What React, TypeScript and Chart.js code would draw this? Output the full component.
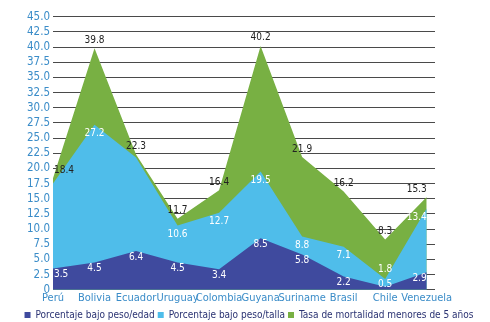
import React, { useEffect, useRef } from 'react';
import { Chart, registerables } from 'chart.js';

Chart.register(...registerables);

const countries = ['Perú', 'Bolivia', 'Ecuador', 'Uruguay', 'Colombia', 'Guyana', 'Suriname', 'Brasil', 'Chile', 'Venezuela'];
const seriesNames = ['Porcentaje bajo peso/edad', 'Porcentaje bajo peso/talla', 'Tasa de mortalidad menores de 5 años'];
const pesoEdad = [3.5, 4.5, 6.4, 4.5, 3.4, 8.5, 5.8, 2.2, 0.5, 2.9];
const pesoTalla = [17.5, 27.2, 21.8, 10.6, 12.7, 19.5, 8.8, 7.1, 1.8, 13.4];
const mortalidad = [18.4, 39.8, 22.3, 11.7, 16.4, 40.2, 21.9, 16.2, 8.3, 15.3];
const yMin = 0;
const yMax = 45;
const yStep = 2.5;

const FONT = '"DejaVu Sans Condensed", "DejaVu Sans", sans-serif';
const colors = ['#3f4a9e', '#4fbdea', '#78b043'];

const labelPlugin = {
  id: 'valueLabels',
  afterDatasetsDraw(chart: any) {
    const ctx = chart.ctx;
    const bottom = chart.chartArea.bottom;
    ctx.save();
    ctx.font = '10px ' + FONT;
    ctx.textAlign = 'center';
    ctx.textBaseline = 'middle';
    const all = [pesoEdad, pesoTalla, mortalidad];
    for (let d = 0; d < 3; d++) {
      const meta = chart.getDatasetMeta(d);
      const pts = meta.data;
      const firstX = pts[0].x;
      const lastX = pts[pts.length - 1].x;
      pts.forEach((pt: any, i: number) => {
        const v = all[d][i];
        let dy = 0;
        let color = '#ffffff';
        if (d === 2) {
          color = '#222222';
          dy = -8;
        } else if (d === 1) {
          if (mortalidad[i] - v < 1) return;
          dy = v - pesoEdad[i] < 3 ? -9 : 9;
        } else {
          dy = 6;
        }
        const text = v.toFixed(1);
        const w = ctx.measureText(text).width;
        let x = pt.x;
        x = Math.max(x, firstX + w / 2 + 1);
        x = Math.min(x, lastX - w / 2);
        const y = Math.min(pt.y + dy, bottom - 5);
        ctx.fillStyle = color;
        ctx.fillText(text, x, y);
      });
    }
    ctx.restore();
  },
};

export default function App() {
  const ref = useRef<HTMLCanvasElement | null>(null);
  useEffect(() => {
    if (!ref.current) return;
    const series = [pesoEdad, pesoTalla, mortalidad];
    const chart = new Chart(ref.current, {
      type: 'line',
      data: {
        datasets: series.map((s, d) => ({
          label: seriesNames[d],
          data: s.map((v, i) => ({ x: i, y: v })),
          backgroundColor: colors[d],
          borderColor: colors[d],
          borderWidth: 0,
          pointRadius: 0,
          fill: 'origin',
          tension: 0,
        })),
      },
      options: {
        animation: false,
        responsive: false,
        maintainAspectRatio: false,
        layout: { padding: { top: 0, right: 0, left: 8, bottom: -8 } },
        plugins: {
          tooltip: { enabled: false },
          legend: {
            position: 'bottom',
            labels: {
              font: { family: FONT, size: 10 },
              color: '#2a3272',
              boxWidth: 6,
              boxHeight: 6,
              padding: 3,
            },
          },
        },
        scales: {
          x: {
            type: 'linear',
            min: 0,
            max: 9.2,
            grid: { display: false, drawTicks: false },
            border: { display: false },
            ticks: {
              stepSize: 1,
              includeBounds: false,
              autoSkip: false,
              maxRotation: 0,
              padding: 2,
              color: '#3a8cc8',
              font: { family: FONT, size: 11 },
              callback: (v: any) => (Number.isInteger(v) && v >= 0 && v < countries.length ? countries[v] : ''),
            },
          },
          y: {
            min: yMin,
            max: yMax,
            grid: { color: '#4a4a4a', lineWidth: 1, drawTicks: false },
            border: { display: false },
            ticks: {
              stepSize: yStep,
              maxTicksLimit: 30,
              autoSkip: false,
              padding: 3,
              color: '#3a8cc8',
              font: { family: FONT, size: 11.5, lineHeight: 1 },
              callback: (v: any) => (v === 0 ? '0' : Number(v).toFixed(1)),
            },
            afterFit: (scale: any) => {
              scale.width = 45;
            },
          },
          spacer: {
            type: 'linear',
            position: 'right',
            display: true,
            grid: { display: false, drawTicks: false },
            border: { display: false },
            ticks: { display: false },
            afterFit: (scale: any) => {
              scale.width = 55;
            },
          },
        },
      },
      plugins: [labelPlugin],
    } as any);
    return () => chart.destroy();
  }, []);
  return (
    <div style={{ width: 490, height: 314, marginLeft: -8 }}>
      <canvas ref={ref} width={490} height={314} style={{ width: 490, height: 314, display: 'block' }} />
    </div>
  );
}
